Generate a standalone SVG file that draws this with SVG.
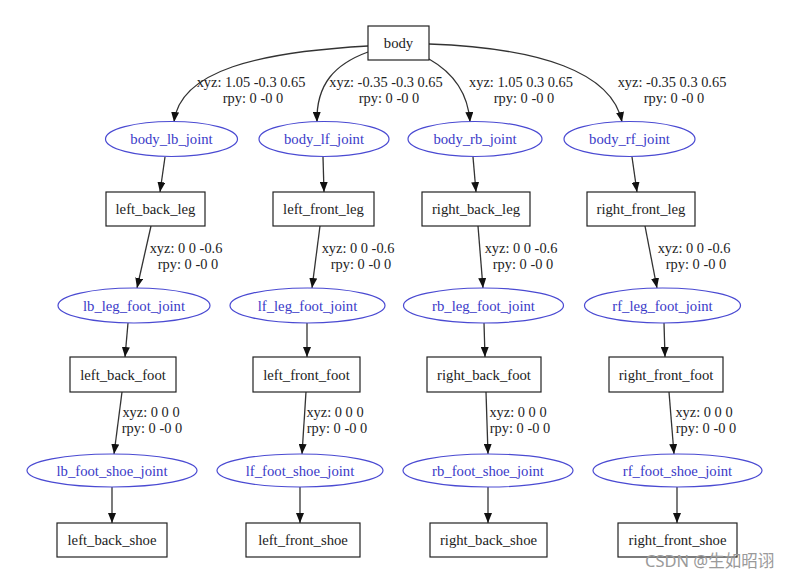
<svg xmlns="http://www.w3.org/2000/svg" width="796" height="580" viewBox="0 0 796 580">
<defs>
<marker id="ah" markerUnits="userSpaceOnUse" markerWidth="11" markerHeight="8" refX="10" refY="4" orient="auto">
<path d="M0,0 L10,4 L0,8 z" fill="#111"/>
</marker>
<style>
.box{fill:#fff;stroke:#222;stroke-width:1.2}
.jt{fill:#fff;stroke:#4a4ad2;stroke-width:1.2}
.nt{font-family:"Liberation Serif","Times New Roman",serif;font-size:14.7px;fill:#222;text-anchor:middle}
.jtt{font-family:"Liberation Serif","Times New Roman",serif;font-size:14.7px;fill:#3a3ac8;text-anchor:middle}
.el{font-family:"Liberation Serif","Times New Roman",serif;font-size:14.4px;fill:#222;text-anchor:middle}
.e{fill:none;stroke:#333;stroke-width:1.3;marker-end:url(#ah)}
</style>
</defs>
<rect width="796" height="580" fill="#fff"/>
<g id="edges">
<path class="e" d="M368,46 C260,52 180,70 174,122"/>
<path class="e" d="M368,52 C335,64 316,84 317,122"/>
<path class="e" d="M429,59 C452,72 468,92 470,122"/>
<path class="e" d="M429,44 C540,48 612,72 622,122"/>
<path class="e" d="M165,157 L160,192"/>
<path class="e" d="M323,157 L324,192"/>
<path class="e" d="M473,157 L476,192"/>
<path class="e" d="M632,157 L637,192"/>
<path class="e" d="M151,226 L137,288"/>
<path class="e" d="M320,226 L312,288"/>
<path class="e" d="M478,226 L483,288"/>
<path class="e" d="M645,226 L657,288"/>
<path class="e" d="M128,323 L125,357"/>
<path class="e" d="M307,323 L307,357"/>
<path class="e" d="M484,323 L485,357"/>
<path class="e" d="M664,323 L665,357"/>
<path class="e" d="M122,392 L114,454"/>
<path class="e" d="M306,392 L302,454"/>
<path class="e" d="M486,392 L488,454"/>
<path class="e" d="M669,392 L674,454"/>
<path class="e" d="M112,487 L112,523"/>
<path class="e" d="M300,487 L300,523"/>
<path class="e" d="M488,487 L488,523"/>
<path class="e" d="M677,487 L677,523"/>
<text class="el" x="251" y="87">xyz: 1.05 -0.3 0.65</text>
<text class="el" x="253" y="103">rpy: 0 -0 0</text>
<text class="el" x="386" y="87">xyz: -0.35 -0.3 0.65</text>
<text class="el" x="389" y="103">rpy: 0 -0 0</text>
<text class="el" x="521" y="87">xyz: 1.05 0.3 0.65</text>
<text class="el" x="524" y="103">rpy: 0 -0 0</text>
<text class="el" x="672" y="87">xyz: -0.35 0.3 0.65</text>
<text class="el" x="674" y="103">rpy: 0 -0 0</text>
<text class="el" x="186" y="253">xyz: 0 0 -0.6</text>
<text class="el" x="188" y="269">rpy: 0 -0 0</text>
<text class="el" x="358" y="253">xyz: 0 0 -0.6</text>
<text class="el" x="361" y="269">rpy: 0 -0 0</text>
<text class="el" x="521" y="253">xyz: 0 0 -0.6</text>
<text class="el" x="523" y="269">rpy: 0 -0 0</text>
<text class="el" x="694" y="253">xyz: 0 0 -0.6</text>
<text class="el" x="696" y="269">rpy: 0 -0 0</text>
<text class="el" x="151" y="417">xyz: 0 0 0</text>
<text class="el" x="152" y="433">rpy: 0 -0 0</text>
<text class="el" x="335" y="417">xyz: 0 0 0</text>
<text class="el" x="337" y="433">rpy: 0 -0 0</text>
<text class="el" x="518" y="417">xyz: 0 0 0</text>
<text class="el" x="520" y="433">rpy: 0 -0 0</text>
<text class="el" x="704" y="417">xyz: 0 0 0</text>
<text class="el" x="706" y="433">rpy: 0 -0 0</text>
</g>
<g id="body"><rect class="box" x="368" y="26" width="61" height="34"/><text class="nt" x="398.5" y="48">body</text></g>
<g id="body_lb_joint"><ellipse class="jt" cx="171.5" cy="139" rx="66" ry="17.5"/><text class="jtt" x="171.5" y="144">body_lb_joint</text></g>
<g id="body_lf_joint"><ellipse class="jt" cx="324" cy="139" rx="65" ry="17.5"/><text class="jtt" x="324" y="144">body_lf_joint</text></g>
<g id="body_rb_joint"><ellipse class="jt" cx="475" cy="139" rx="67" ry="17.5"/><text class="jtt" x="475" y="144">body_rb_joint</text></g>
<g id="body_rf_joint"><ellipse class="jt" cx="629.5" cy="139" rx="65.5" ry="17.5"/><text class="jtt" x="629.5" y="144">body_rf_joint</text></g>
<g id="left_back_leg"><rect class="box" x="106" y="192" width="99" height="34"/><text class="nt" x="155.5" y="214">left_back_leg</text></g>
<g id="left_front_leg"><rect class="box" x="273" y="192" width="101" height="34"/><text class="nt" x="323.5" y="214">left_front_leg</text></g>
<g id="right_back_leg"><rect class="box" x="422" y="192" width="108" height="34"/><text class="nt" x="476" y="214">right_back_leg</text></g>
<g id="right_front_leg"><rect class="box" x="587" y="192" width="108" height="34"/><text class="nt" x="641" y="214">right_front_leg</text></g>
<g id="lb_leg_foot_joint"><ellipse class="jt" cx="134" cy="305.5" rx="76" ry="17.5"/><text class="jtt" x="134" y="310.5">lb_leg_foot_joint</text></g>
<g id="lf_leg_foot_joint"><ellipse class="jt" cx="307.5" cy="305.5" rx="77.5" ry="17.5"/><text class="jtt" x="307.5" y="310.5">lf_leg_foot_joint</text></g>
<g id="rb_leg_foot_joint"><ellipse class="jt" cx="483.5" cy="305.5" rx="80" ry="17.5"/><text class="jtt" x="483.5" y="310.5">rb_leg_foot_joint</text></g>
<g id="rf_leg_foot_joint"><ellipse class="jt" cx="662.5" cy="305.5" rx="78" ry="17.5"/><text class="jtt" x="662.5" y="310.5">rf_leg_foot_joint</text></g>
<g id="left_back_foot"><rect class="box" x="70" y="357" width="106" height="35"/><text class="nt" x="123" y="379.5">left_back_foot</text></g>
<g id="left_front_foot"><rect class="box" x="253" y="357" width="107" height="35"/><text class="nt" x="306.5" y="379.5">left_front_foot</text></g>
<g id="right_back_foot"><rect class="box" x="427" y="357" width="114" height="35"/><text class="nt" x="484" y="379.5">right_back_foot</text></g>
<g id="right_front_foot"><rect class="box" x="609" y="357" width="114" height="35"/><text class="nt" x="666" y="379.5">right_front_foot</text></g>
<g id="lb_foot_shoe_joint"><ellipse class="jt" cx="112" cy="470.5" rx="85" ry="16.5"/><text class="jtt" x="112" y="475.5">lb_foot_shoe_joint</text></g>
<g id="lf_foot_shoe_joint"><ellipse class="jt" cx="300" cy="470.5" rx="83" ry="16.5"/><text class="jtt" x="300" y="475.5">lf_foot_shoe_joint</text></g>
<g id="rb_foot_shoe_joint"><ellipse class="jt" cx="488" cy="470.5" rx="85" ry="16.5"/><text class="jtt" x="488" y="475.5">rb_foot_shoe_joint</text></g>
<g id="rf_foot_shoe_joint"><ellipse class="jt" cx="677.5" cy="470.5" rx="84.5" ry="16.5"/><text class="jtt" x="677.5" y="475.5">rf_foot_shoe_joint</text></g>
<g id="left_back_shoe"><rect class="box" x="57" y="523" width="110" height="34"/><text class="nt" x="112" y="545">left_back_shoe</text></g>
<g id="left_front_shoe"><rect class="box" x="246" y="523" width="114" height="34"/><text class="nt" x="303" y="545">left_front_shoe</text></g>
<g id="right_back_shoe"><rect class="box" x="430" y="523" width="117" height="34"/><text class="nt" x="488.5" y="545">right_back_shoe</text></g>
<g id="right_front_shoe"><rect class="box" x="618" y="523" width="119" height="34"/><text class="nt" x="677.5" y="545">right_front_shoe</text></g>
<text x="645" y="567" font-family="'Noto Sans','Noto Sans CJK SC',sans-serif" font-size="16.5" fill="#9a9a9a">CSDN @生如昭诩</text>
</svg>
